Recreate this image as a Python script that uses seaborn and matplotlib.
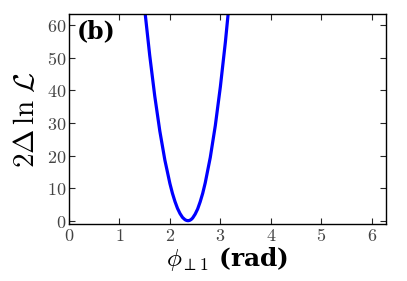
import numpy as np
import pandas as pd
import seaborn as sns
import matplotlib
matplotlib.use("Agg")
import matplotlib.pyplot as plt

# curve
phi = [1.50, 1.60, 1.70, 1.80, 1.90, 2.00, 2.05, 2.10, 2.15, 2.20, 2.25,
       2.30, 2.33, 2.36, 2.39, 2.42, 2.45, 2.50, 2.55, 2.60, 2.65, 2.70,
       2.80, 2.90, 3.00, 3.10, 3.20]
dlnl = [64.9, 50.7, 38.2, 27.5, 18.6, 11.4, 8.4, 5.9, 3.8, 2.2, 1.0,
        0.3, 0.08, 0.0, 0.09, 0.36, 0.81, 2.0, 3.6, 5.8, 8.4, 11.6,
        19.4, 29.2, 41.1, 54.9, 70.8]
xticks = [0, 1, 2, 3, 4, 5, 6]
yticks = [0, 10, 20, 30, 40, 50, 60]

df = pd.DataFrame({"phi": phi, "dlnl": dlnl})

sns.set_style("ticks")
plt.rcParams["mathtext.fontset"] = "cm"
plt.rcParams["font.family"] = ["DejaVu Serif"]
plt.rcParams["text.color"] = "black"
plt.rcParams["axes.labelcolor"] = "black"

fig = plt.figure(figsize=(4.07, 2.81), dpi=100)
ax = fig.add_axes([0.1695, 0.203, 0.779, 0.747])

sns.lineplot(data=df, x="phi", y="dlnl", color="#0000ff", lw=2.3, ax=ax)

ax.set_xlim(0, 2 * np.pi)
ax.set_ylim(-1, 63.4)
ax.set_xticks(xticks)
ax.set_yticks(yticks)
ax.set_xticklabels([f"${t}$" for t in xticks])
ax.set_yticklabels([f"${t}$" for t in yticks])
ax.tick_params(direction="in", top=True, right=True, length=4, width=0.8,
               labelsize=13, labelcolor="#444444", pad=2)
for s in ax.spines.values():
    s.set_linewidth(1.0)
    s.set_color("black")

ax.set_xlabel(r"$\phi_{\perp 1}$ (rad)", fontsize=18, fontweight="bold", labelpad=0)
ax.set_ylabel(r"$2\Delta\,\ln\,\mathcal{L}$", fontsize=21, labelpad=5)
ax.text(0.025, 0.975, "(b)", transform=ax.transAxes, fontweight="bold",
        fontsize=17, va="top", ha="left")

fig.savefig("out.png", dpi=100)
